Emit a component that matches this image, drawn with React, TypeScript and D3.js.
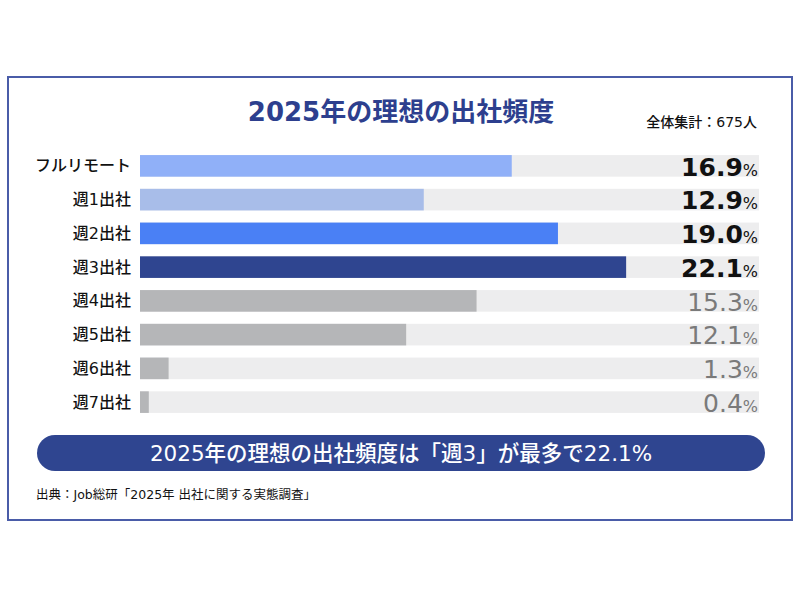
import React from "react";
import * as d3 from "d3";

const categories = ["フルリモート", "週1出社", "週2出社", "週3出社", "週4出社", "週5出社", "週6出社", "週7出社"];
const values = [16.9, 12.9, 19.0, 22.1, 15.3, 12.1, 1.3, 0.4];
const barColors = ["#90b0f8", "#a8bde9", "#4a80f5", "#2f4590", "#b5b6b8", "#b5b6b8", "#b5b6b8", "#b5b6b8"];
const labelColors = ["#111", "#111", "#111", "#111", "#7a7a7a", "#7a7a7a", "#7a7a7a", "#7a7a7a"];
const title = "2025年の理想の出社頻度";
const total = "全体集計：675人";
const banner = "2025年の理想の出社頻度は「週3」が最多で22.1%";
const source = "出典：Job総研「2025年 出社に関する実態調査」";

const FONT = "'DejaVu Sans', 'Noto Sans CJK JP', sans-serif";

export default function App() {
  const x = d3.scaleLinear().domain([0, 28.14]).range([140, 759]);
  const y = d3.scaleBand<string>().domain(categories).range([149, 419]).paddingInner(0.36).paddingOuter(0.18);
  return (
    <svg width={800} height={600} style={{ position: "absolute", left: 0, top: 0 }} fontFamily={FONT}>
      <rect x={0} y={0} width={800} height={600} fill="#fff" />
      <rect x={8} y={77} width={784} height={443} fill="#fff" stroke="#4a5ca8" strokeWidth={2} />
      <text x={401} y={121} textAnchor="middle" fontSize={26} fontWeight={700} fill="#2d3f8e">{title}</text>
      <text x={757} y={127} textAnchor="end" fontSize={14} fontWeight={500} fill="#111">{total}</text>
      {categories.map((c, i) => {
        const yy = y(c)!;
        const h = y.bandwidth();
        return (
          <g key={c}>
            <rect x={x(0)} y={yy} width={x(28.14) - x(0)} height={h} fill="#ededee" />
            <rect x={x(0)} y={yy} width={x(values[i]) - x(0)} height={h} fill={barColors[i]} />
            <text x={131} y={yy + h / 2} textAnchor="end" dominantBaseline="central" fontSize={16} fontWeight={500} fill="#111">{c}</text>
            <text x={758} y={yy + h - 1} textAnchor="end" fill={labelColors[i]}>
              <tspan fontSize={25} fontWeight={i < 4 ? 700 : 400}>{values[i].toFixed(1)}</tspan>
              <tspan fontSize={16}>%</tspan>
            </text>
          </g>
        );
      })}
      <rect x={37} y={435} width={728} height={36} rx={18} fill="#2f4590" />
      <text x={401} y={453.5} textAnchor="middle" dominantBaseline="central" fontSize={21.5} fontWeight={500} fill="#fff">{banner}</text>
      <text x={36} y={499} fontSize={12.5} fill="#111">{source}</text>
    </svg>
  );
}
